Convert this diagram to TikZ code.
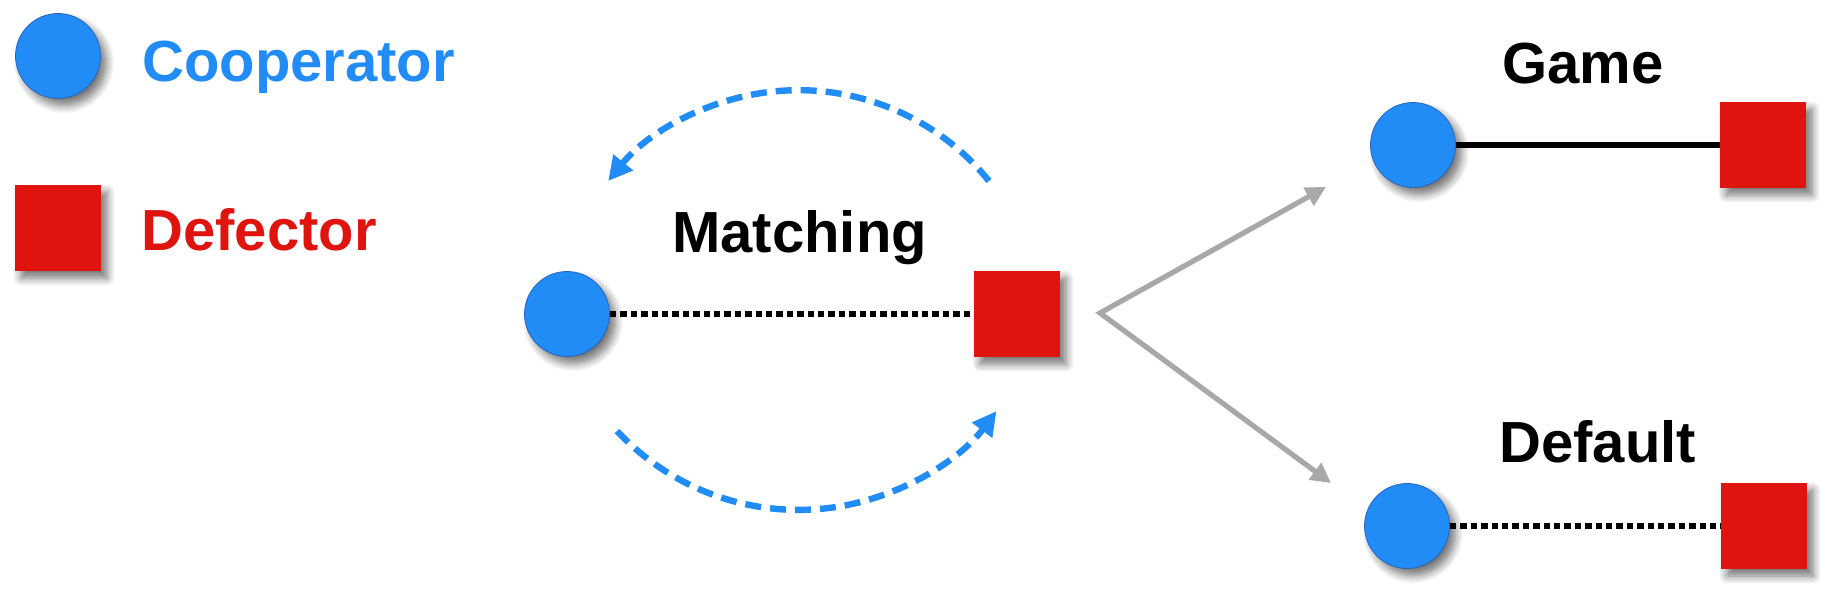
\documentclass[tikz,border=0pt]{standalone}
\usepackage{fontspec}
\setmainfont{Liberation Sans}
\usetikzlibrary{arrows.meta,shadows.blur}
\definecolor{coopblue}{RGB}{33,140,245}
\definecolor{coopedge}{RGB}{40,100,190}
\definecolor{defred}{RGB}{224,20,14}
\definecolor{arrgray}{RGB}{168,168,168}
\tikzset{
  coop/.style={circle,fill=coopblue,draw=coopedge,line width=0.4pt,minimum size=42.5pt,inner sep=0pt,
    blur shadow={shadow xshift=3pt,shadow yshift=-3.5pt,shadow blur steps=8,shadow blur radius=4pt,shadow opacity=55}},
  defe/.style={rectangle,fill=defred,minimum size=43pt,inner sep=0pt,
    blur shadow={shadow xshift=3pt,shadow yshift=-3.5pt,shadow blur steps=8,shadow blur radius=4pt,shadow opacity=55}},
  lbl/.style={font=\bfseries\fontsize{29}{34}\selectfont,inner sep=0pt,anchor=base west},
  dotline/.style={line width=3pt,dash pattern=on 3.2pt off 2pt,black},
  solidline/.style={line width=2.6pt,black},
  swap/.style={coopblue,line width=3.2pt,dash pattern=on 8pt off 4.5pt,-{Triangle[length=12pt,width=12pt]}},
  branch/.style={arrgray,line width=2.6pt,line join=miter,{Triangle[length=10pt,width=10pt]}-{Triangle[length=10pt,width=10pt]}}
}
\begin{document}
\begin{tikzpicture}[x=0.5pt,y=-0.5pt]
\useasboundingbox (0,0) rectangle (1835,600);
% legend
\node[coop] (lc) at (58,56) {};
\node[lbl,text=coopblue] (lct) at (142,81) {Cooperator};
\node[defe] (ls) at (58,228) {};
\node[lbl,text=defred] (lst) at (141,250) {Defector};
% matching
\node[coop] (mc) at (567,314) {};
\node[defe] (ms) at (1017,314) {};
\node[lbl] (mt) at (672,252) {Matching};
\draw[dotline] (mc.east) -- (ms.west);
\coordinate (ts) at (989,181);
\coordinate (bs) at (617,431);
\draw[swap] (ts) arc[start angle=-39,end angle=-141,radius=245];
\draw[swap] (bs) arc[start angle=137,end angle=37,radius=248];
% branch
\coordinate (v) at (1100,313);
\coordinate (gt) at (1326,187);
\coordinate (gb) at (1331,483);
\draw[branch] (gt) -- (v) -- (gb);
% game
\node[coop] (gc) at (1413,145) {};
\node[defe] (gs) at (1763,145) {};
\node[lbl] (gtx) at (1502,83) {Game};
\draw[solidline] (gc.east) -- (gs.west);
% default
\node[coop] (dc) at (1407,526) {};
\node[defe] (ds) at (1764,526) {};
\node[lbl] (dtx) at (1499,462) {Default};
\draw[dotline] (dc.east) -- (ds.west);
\end{tikzpicture}
\end{document}
